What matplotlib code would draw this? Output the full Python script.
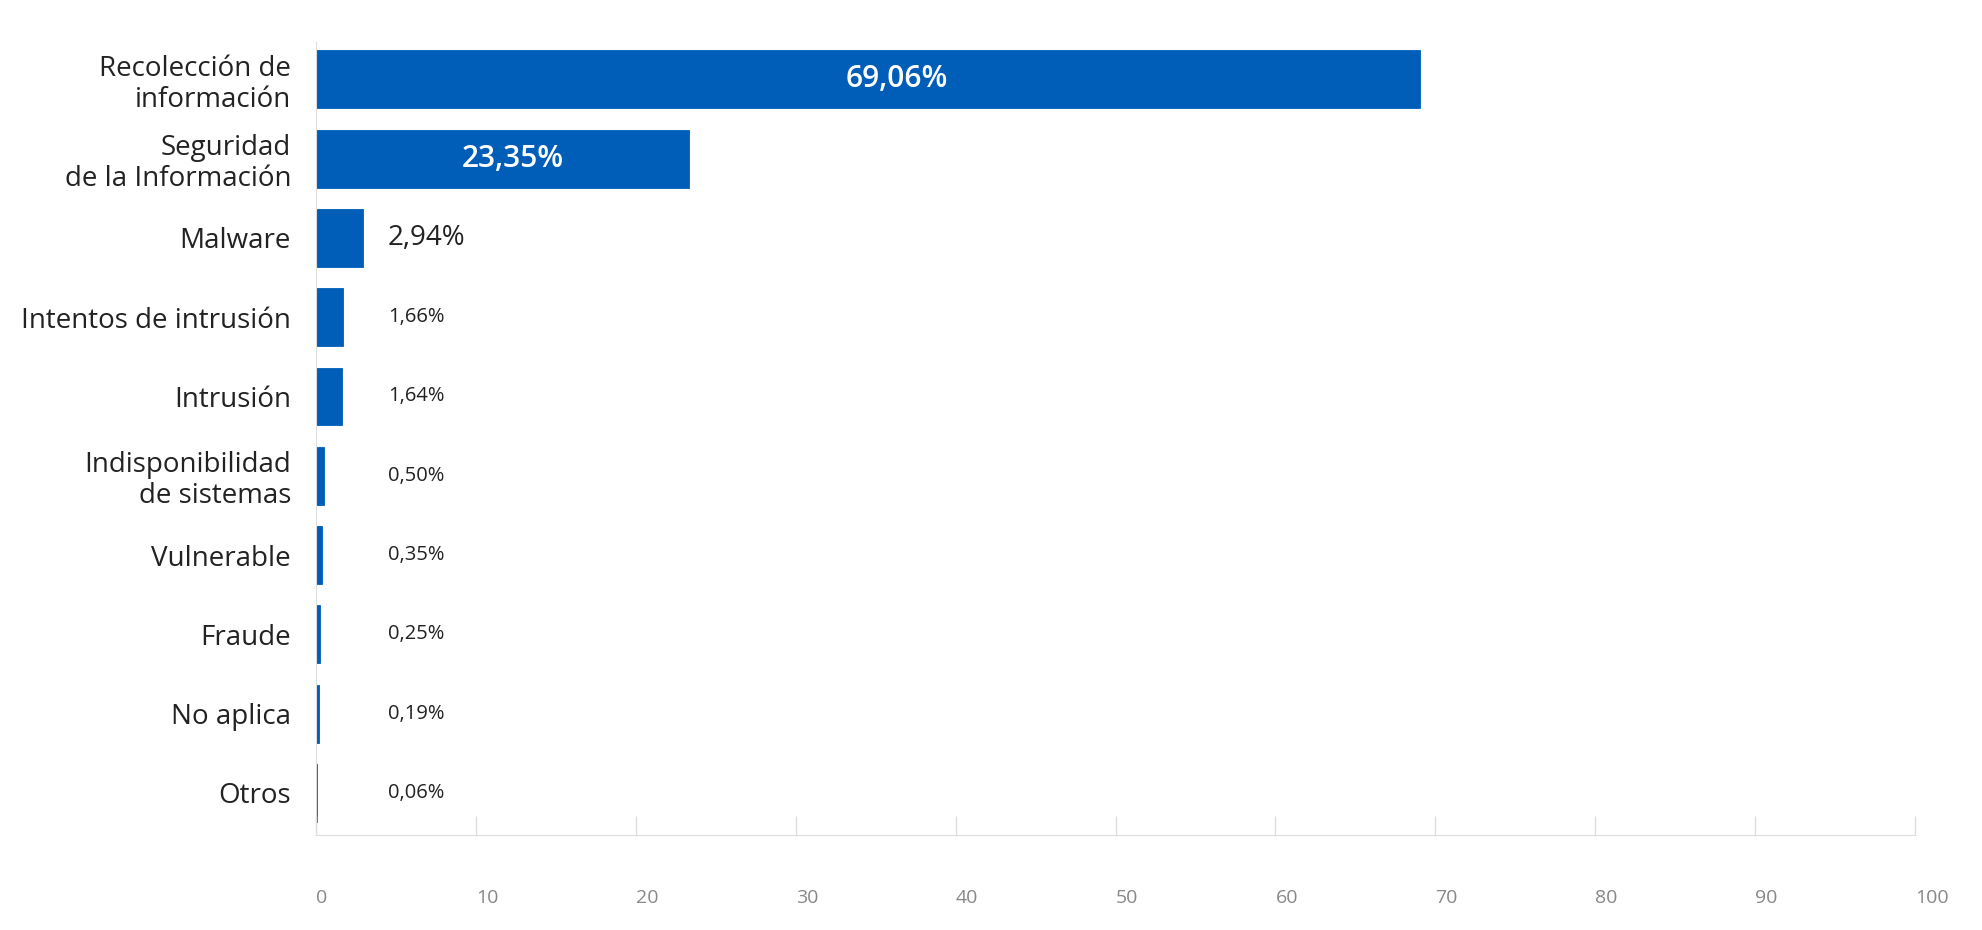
import matplotlib
matplotlib.use("Agg")
from matplotlib import pyplot as plt

# categorías y porcentajes
categorias = ["Recolección de\ninformación", "Seguridad\nde la Información", "Malware",
              "Intentos de intrusión", "Intrusión", "Indisponibilidad\nde sistemas",
              "Vulnerable", "Fraude", "No aplica", "Otros"]
porcentajes = [69.06, 23.35, 2.94, 1.66, 1.64, 0.50, 0.35, 0.25, 0.19, 0.06]
etiquetas = ["69,06%", "23,35%", "2,94%", "1,66%", "1,64%", "0,50%", "0,35%", "0,25%", "0,19%", "0,06%"]
ticks_x = [0, 10, 20, 30, 40, 50, 60, 70, 80, 90, 100]

azul = "#005EB8"
gris = "#dddddd"
texto = "#222222"

plt.rcParams["font.family"] = ["Open Sans", "DejaVu Sans"]

fig = plt.figure(figsize=(19.83, 9.30), dpi=100)
ax = fig.add_axes([0.1594, 0.1022, 0.8063, 0.8526])

pos = list(range(len(categorias)))
ax.barh(pos, porcentajes, height=0.73, color=azul, edgecolor=azul, linewidth=0.6)

ax.set_xlim(0, 100)
ax.set_ylim(9.53, -0.47)

# etiquetas de valor: dentro de la barra las grandes, fuera las pequeñas
for i, (v, txt) in enumerate(zip(porcentajes, etiquetas)):
    if v > 10:
        ax.text(v * 0.526, i, txt, ha="center", va="center", color="white",
                fontsize=21.5, fontweight="semibold")
    elif v > 2:
        ax.text(4.5, i, txt, ha="left", va="center", color=texto, fontsize=20)
    else:
        ax.text(4.5, i, txt, ha="left", va="center", color=texto, fontsize=14.5)

ax.set_yticks(pos)
ax.set_yticklabels(categorias, fontsize=20, color=texto, linespacing=1.15)
ax.tick_params(axis="y", length=0, pad=18)

ax.set_xticks(ticks_x)
ax.set_xticklabels([str(t) for t in ticks_x], fontsize=14, color="#888888", ha="left")
ax.tick_params(axis="x", direction="in", length=14, width=1, color=gris, pad=39)

for lado in ["top", "right"]:
    ax.spines[lado].set_visible(False)
ax.spines["left"].set_color(gris)
ax.spines["bottom"].set_color(gris)

fig.savefig("out.png", dpi=100, facecolor="white")
